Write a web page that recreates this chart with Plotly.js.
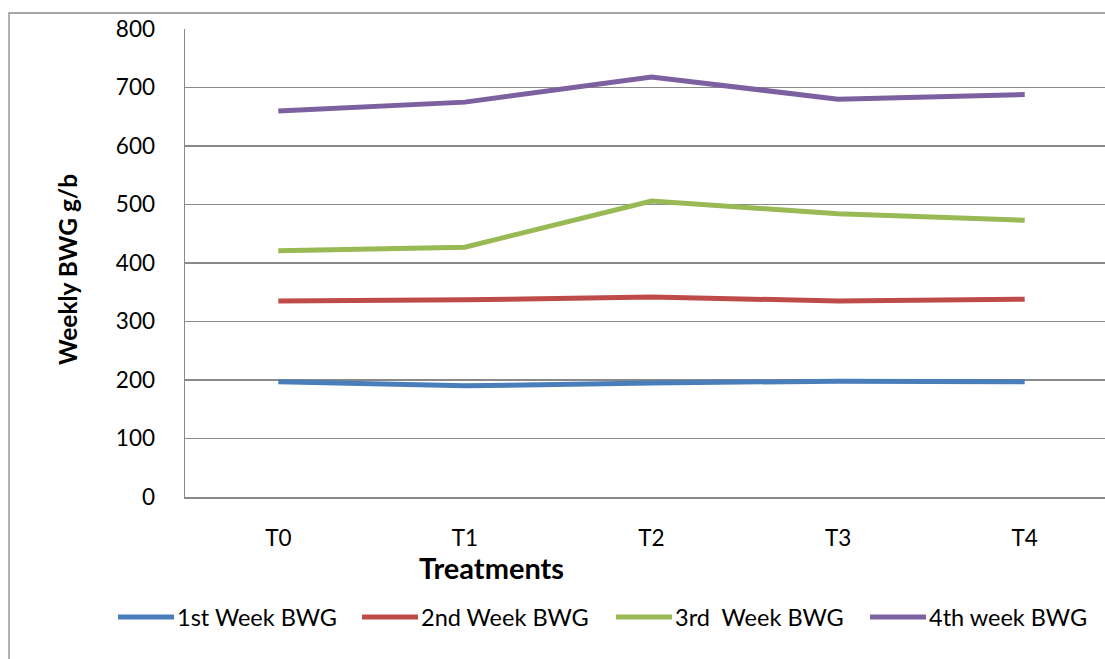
<!DOCTYPE html>
<html>
<head>
<meta charset="utf-8">
<script src="https://cdn.plot.ly/plotly-3.0.1.min.js"></script>
<style>
  html, body { margin: 0; padding: 0; background: #fff; overflow: hidden; }
  #chart { width: 1130px; height: 659px; }
</style>
</head>
<body>
<div id="chart"></div>
<script>
// Weekly body weight gain (g/bird) per treatment group
const treatments = ['T0', 'T1', 'T2', 'T3', 'T4'];
const week1 = [197, 190, 195, 198, 197];
const week2 = [335, 337, 342, 335, 338];
const week3 = [421, 427, 506, 484, 473];
const week4 = [660, 675, 718, 680, 688];
const seriesNames = ['1st Week BWG', '2nd Week BWG', '3rd\u00A0\u00A0Week BWG', '4th week BWG'];
const seriesColors = ['#4A7EBB', '#BE4B48', '#98B954', '#7D60A0'];
const yTicks = [0, 100, 200, 300, 400, 500, 600, 700, 800];

const FONT = 'Lato, "Liberation Sans", sans-serif';
const W = 1130, H = 659;
const M = { l: 185, r: 12, t: 29, b: 162 };
const plotW = W - M.l - M.r, plotH = H - M.t - M.b;
// pixel -> paper helpers for items drawn in the margins
const px = x => (x - M.l) / plotW;
const py = y => (H - M.b - y) / plotH;

const allSeries = [week1, week2, week3, week4];
const traces = allSeries.map((vals, i) => ({
  type: 'scatter',
  mode: 'lines',
  x: treatments,
  y: vals,
  name: seriesNames[i],
  line: { color: seriesColors[i], width: 5 },
  showlegend: false,
  hoverinfo: 'x+y+name'
}));

// legend row: short line sample followed by its label
const legendStarts = [118, 362, 616, 870];
const legendY = 617;
const shapes = [];
const annotations = [];
legendStarts.forEach((x0, i) => {
  shapes.push({
    type: 'line', xref: 'paper', yref: 'paper',
    x0: px(x0), x1: px(x0 + 56), y0: py(legendY), y1: py(legendY),
    line: { color: seriesColors[i], width: 5 }
  });
  annotations.push({
    xref: 'paper', yref: 'paper', x: px(x0 + 57), y: py(legendY),
    xanchor: 'left', yanchor: 'middle', showarrow: false,
    text: seriesNames[i], font: { family: FONT, size: 23.5, color: '#000' }
  });
});

// outer chart frame
shapes.push({
  type: 'rect', xref: 'paper', yref: 'paper', layer: 'below',
  x0: px(9), x1: px(1200), y0: py(13), y1: py(720),
  line: { color: '#898989', width: 1.3 }, fillcolor: 'rgba(0,0,0,0)'
});

// axis titles
annotations.push({
  xref: 'paper', yref: 'paper', x: px(491), y: py(567),
  xanchor: 'center', yanchor: 'middle', showarrow: false,
  text: '<b>Treatments</b>', font: { family: FONT, size: 29, color: '#000' }
});
annotations.push({
  xref: 'paper', yref: 'paper', x: px(67), y: py(270),
  xanchor: 'center', yanchor: 'middle', showarrow: false, textangle: -90,
  text: '<b>Weekly BWG g/b</b>', font: { family: FONT, size: 24.5, color: '#000' }
});

const layout = {
  width: W, height: H,
  margin: M,
  paper_bgcolor: '#fff', plot_bgcolor: '#fff',
  font: { family: FONT, size: 22, color: '#000' },
  xaxis: {
    type: 'category', range: [-0.5, 4.5],
    showgrid: false, zeroline: false,
    showline: true, linecolor: '#898989', linewidth: 1.5,
    ticks: '', ticklabelstandoff: 20,
    tickfont: { family: FONT, size: 22.5, color: '#000' }
  },
  yaxis: {
    range: [0, 800], tickvals: yTicks,
    showgrid: true, gridcolor: '#898989', gridwidth: 1.5,
    zeroline: false,
    showline: true, linecolor: '#898989', linewidth: 1.5,
    ticks: '', ticklabelstandoff: 24,
    tickfont: { family: FONT, size: 22.5, color: '#000' }
  },
  shapes: shapes,
  annotations: annotations
};

Plotly.newPlot('chart', traces, layout, { displayModeBar: false, staticPlot: true });
</script>
</body>
</html>
